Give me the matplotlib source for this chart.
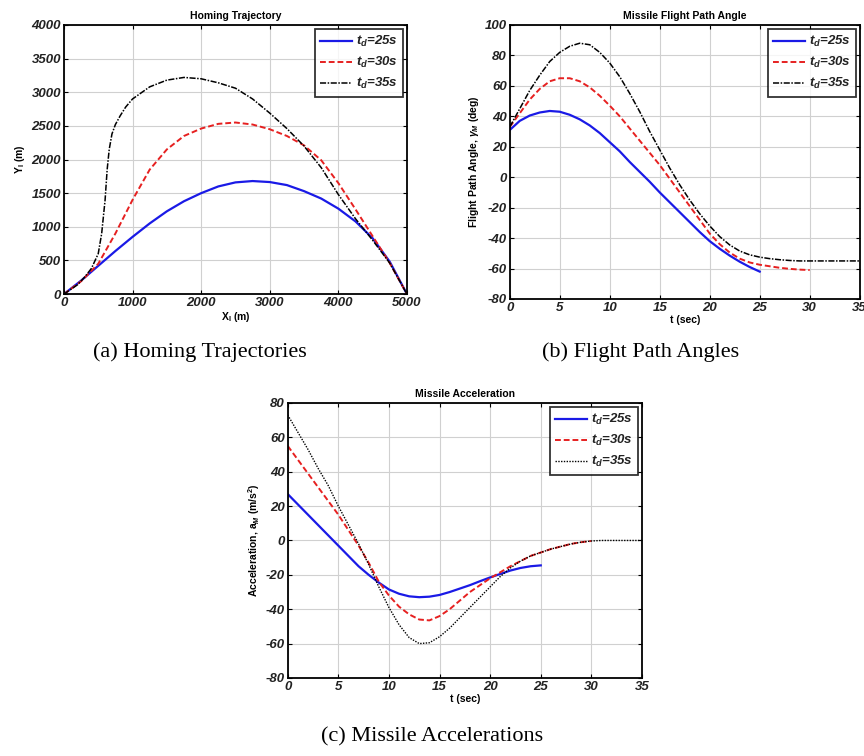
import numpy as np
import matplotlib.pyplot as plt

# (a) Homing trajectories: X_I (m), Y_I (m)
xa_25 = [0, 250, 500, 750, 1000, 1250, 1500, 1750, 2000, 2250, 2500, 2750, 3000, 3250, 3500, 3750, 4000, 4250, 4500, 4750, 5000]
ya_25 = [0, 200, 420, 640, 850, 1050, 1230, 1380, 1500, 1600, 1660, 1680, 1665, 1620, 1530, 1420, 1270, 1080, 830, 480, 0]
xa_30 = [0, 250, 500, 750, 1000, 1250, 1500, 1750, 2000, 2250, 2500, 2750, 3000, 3250, 3500, 3750, 4000, 4250, 4500, 4750, 5000]
ya_30 = [0, 190, 450, 900, 1400, 1850, 2150, 2350, 2460, 2530, 2550, 2520, 2450, 2350, 2210, 1990, 1650, 1260, 860, 460, 0]
xa_35 = [0, 200, 300, 400, 500, 550, 600, 630, 660, 700, 750, 820, 900, 1000, 1250, 1500, 1750, 2000, 2250, 2500, 2750, 3000, 3250, 3500, 3750, 4000, 4250, 4500, 4750, 5000]
ya_35 = [0, 140, 250, 380, 600, 900, 1400, 1850, 2150, 2380, 2520, 2650, 2780, 2900, 3080, 3180, 3220, 3200, 3140, 3060, 2900, 2690, 2460, 2200, 1880, 1480, 1120, 800, 460, 0]

# (b) Flight path angle (deg) vs t (sec)
tb_25 = [0, 1, 2, 3, 4, 5, 6, 7, 8, 9, 10, 11, 12, 13, 14, 15, 16, 17, 18, 19, 20, 21, 22, 23, 24, 25]
gb_25 = [31, 37, 40.5, 42.5, 43.5, 43, 41, 38, 34, 29, 23, 17, 10, 3.5, -3, -10, -16.5, -23, -29.5, -36, -42, -47, -51.5, -55.5, -59, -62]
tb_30 = [0, 1, 2, 3, 4, 5, 6, 7, 8, 9, 10, 11, 12, 13, 14, 15, 16, 17, 18, 19, 20, 21, 22, 23, 24, 25, 26, 27, 28, 29, 30]
gb_30 = [33, 42, 51, 58, 63, 65, 65, 63, 59, 53.5, 47, 40, 32, 24, 16, 8, -1, -10, -19, -28, -37, -44, -49.5, -53.5, -56, -57.5, -58.5, -59.5, -60.2, -60.7, -61]
tb_35 = [0, 1, 2, 3, 4, 5, 6, 7, 8, 9, 10, 11, 12, 13, 14, 15, 16, 17, 18, 19, 20, 21, 22, 23, 24, 25, 26, 27, 28, 29, 30, 31, 32, 33, 34, 35]
gb_35 = [33, 45, 57, 67, 76, 82, 86, 88, 87, 82, 75, 66, 55, 43, 30, 18, 6, -5, -15, -24, -32, -39, -44.5, -48.5, -51, -52.5, -53.5, -54.2, -54.7, -55, -55, -55, -55, -55, -55, -55]

# (c) Missile acceleration (m/s^2) vs t (sec)
tc_25 = [0, 1, 2, 3, 4, 5, 6, 7, 8, 9, 10, 11, 12, 13, 14, 15, 16, 17, 18, 19, 20, 21, 22, 23, 24, 25]
ac_25 = [27, 21, 15, 9, 3, -3, -9, -15, -20, -24.5, -28.5, -31, -32.5, -33, -32.7, -31.7, -30, -28, -26, -23.7, -21.5, -19.5, -17.5, -16, -15, -14.5]
tc_30 = [0, 1, 2, 3, 4, 5, 6, 7, 8, 9, 10, 11, 12, 13, 14, 15, 16, 17, 18, 19, 20, 21, 22, 23, 24, 25, 26, 27, 28, 29, 30]
ac_30 = [55, 47, 39, 31, 23, 15, 6, -3, -13, -24, -32, -38.5, -43, -46, -46.5, -44, -40, -35, -30, -26, -22, -18.5, -15, -12, -9, -7, -5, -3.5, -2, -1, -0.3]
tc_35 = [0, 1, 2, 3, 4, 5, 6, 7, 8, 9, 10, 11, 12, 13, 14, 15, 16, 17, 18, 19, 20, 21, 22, 23, 24, 25, 26, 27, 28, 29, 30, 31, 32, 33, 34, 35]
ac_35 = [73, 63, 53, 42, 32, 20, 9, -2, -14, -27, -39, -49, -56.5, -60, -59.5, -56, -51, -45, -39, -33, -27, -21, -16, -12, -9, -7, -5, -3.5, -2, -1, -0.3, 0, 0, 0, 0, 0]

labels = ['$t_d$=25s', '$t_d$=30s', '$t_d$=35s']

plt.rcParams['font.family'] = ['Liberation Sans', 'DejaVu Sans']
plt.rcParams['mathtext.fontset'] = 'custom'
plt.rcParams['mathtext.it'] = 'Liberation Sans:italic:bold'
plt.rcParams['mathtext.rm'] = 'Liberation Sans:bold'
plt.rcParams['axes.unicode_minus'] = False

fig = plt.figure(figsize=(8.64, 7.56), dpi=100)


def style(ax, title, xlabel, ylabel, xlim, ylim, xticks, yticks):
    ax.set_title(title, fontsize=7.5, fontweight='bold', pad=4)
    ax.set_xlabel(xlabel, fontsize=7.5, fontweight='bold', labelpad=1)
    ax.set_ylabel(ylabel, fontsize=7.5, fontweight='bold', labelpad=3)
    ax.set_xlim(xlim)
    ax.set_ylim(ylim)
    ax.set_xticks(xticks)
    ax.set_yticks(yticks)
    ax.grid(True, color='#d0d0d0', linewidth=0.8)
    ax.tick_params(direction='in', top=True, right=True, length=3, labelsize=9.5, pad=2)
    for lab in ax.get_xticklabels() + ax.get_yticklabels():
        lab.set_fontweight('bold')
        lab.set_fontstyle('italic')
        lab.set_color('#222222')
    for s in ax.spines.values():
        s.set_linewidth(1.3)
    leg = ax.legend(loc='upper right', fontsize=9.5, frameon=True, fancybox=False,
                    edgecolor='black', handlelength=2.4, handletextpad=0.3,
                    borderaxespad=0.3, labelspacing=0.45, borderpad=0.4)
    leg.get_frame().set_linewidth(1.3)
    for t in leg.get_texts():
        t.set_fontweight('bold')
        t.set_fontstyle('italic')
        t.set_color('#222222')


# (a)
ax1 = fig.add_axes([0.074, 0.611, 0.397, 0.356])
ax1.plot(xa_25, ya_25, color='#1a1ae6', lw=1.6, label=labels[0])
ax1.plot(xa_30, ya_30, color='#e62020', lw=1.4, ls=(0, (3, 1.5)), label=labels[1])
ax1.plot(xa_35, ya_35, color='black', lw=1.1, ls=(0, (4, 1, 1, 1)), label=labels[2])
style(ax1, 'Homing Trajectory', 'X$_\\mathrm{I}$ (m)', 'Y$_\\mathrm{I}$ (m)',
      (0, 5000), (0, 4000), np.arange(0, 5001, 1000), np.arange(0, 4001, 500))

# (b)
ax2 = fig.add_axes([0.590, 0.6045, 0.405, 0.3625])
ax2.plot(tb_25, gb_25, color='#1a1ae6', lw=1.6, label=labels[0])
ax2.plot(tb_30, gb_30, color='#e62020', lw=1.4, ls=(0, (3, 1.5)), label=labels[1])
ax2.plot(tb_35, gb_35, color='black', lw=1.1, ls=(0, (4, 1, 1, 1)), label=labels[2])
style(ax2, 'Missile Flight Path Angle', 't (sec)', 'Flight Path Angle, $\\gamma_M$ (deg)',
      (0, 35), (-80, 100), np.arange(0, 36, 5), np.arange(-80, 101, 20))

# (c)
ax3 = fig.add_axes([0.333, 0.1032, 0.410, 0.3638])
ax3.plot(tc_25, ac_25, color='#1a1ae6', lw=1.6, label=labels[0])
ax3.plot(tc_30, ac_30, color='#e62020', lw=1.4, ls=(0, (3, 1.5)), label=labels[1])
ax3.plot(tc_35, ac_35, color='black', lw=1.0, ls=(0, (1, 1)), label=labels[2])
style(ax3, 'Missile Acceleration', 't (sec)', 'Acceleration, a$_M$ (m/s$^2$)',
      (0, 35), (-80, 80), np.arange(0, 36, 5), np.arange(-80, 81, 20))

# captions
cap = dict(fontsize=16, family='Liberation Serif', ha='center', va='center')
fig.text(0.231, 0.534, '(a) Homing Trajectories', **cap)
fig.text(0.741, 0.534, '(b) Flight Path Angles', **cap)
fig.text(0.5, 0.025, '(c) Missile Accelerations', **cap)

fig.savefig('out.png', dpi=100)
